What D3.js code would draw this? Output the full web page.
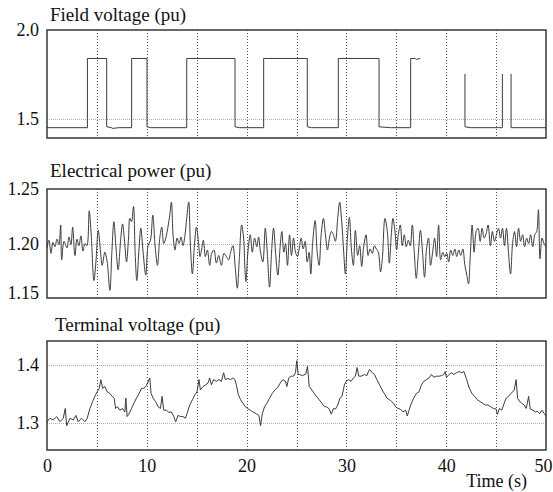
<!DOCTYPE html>
<html>
<head>
<meta charset="utf-8">
<script src="https://cdn.jsdelivr.net/npm/d3@7"></script>
<style>
  body { margin: 0; background: #fff; }
  svg { display: block; }
  svg text { font-family: "Liberation Serif", "Times New Roman", Times, "DejaVu Serif", "Noto Serif", serif; fill: #111; }
</style>
</head>
<body>
<svg id="chart" width="553" height="492"></svg>
<script>
// ---- data ----
var xTicks = [0, 10, 20, 30, 40, 50];
var gridTimes = [5, 10, 15, 20, 25, 30, 35, 40, 45];

var fieldTicks = [1.5, 2.0];
var powerTicks = [1.15, 1.20, 1.25];
var voltageTicks = [1.3, 1.4];

var titles = ['Field voltage (pu)', 'Electrical power (pu)', 'Terminal voltage (pu)'];

// field voltage: square wave, null = no trace drawn
var fieldTime = [0, 4.05, 4.05, 5.98, 5.98, 6.4, 6.6, 7.2, 8.48, 8.48, 10.02, 10.02, 10.4, 14.0, 14.0,
  18.84, 18.84, 19.3, 21.71, 21.71, 26.08, 26.08, 26.5, 29.19, 29.19, 33.27, 33.27, 34.4, 36.44, 36.44,
  36.9, 37.0, 37.4, 37.5, 41.88, 41.88, 42.4, 45.63, 45.63, 45.7, 46.5, 46.5, 50];
var fieldValue = [1.451, 1.451, 1.84, 1.84, 1.456, 1.452, 1.447, 1.451, 1.451, 1.84, 1.84, 1.456, 1.451, 1.451, 1.84,
  1.84, 1.456, 1.451, 1.451, 1.84, 1.84, 1.456, 1.451, 1.451, 1.84, 1.84, 1.456, 1.451, 1.451, 1.84,
  1.84, 1.835, 1.84, null, 1.753, 1.456, 1.451, 1.451, 1.753, null, 1.753, 1.451, 1.451];

var powerTime = [0, 0.2, 0.4, 0.6, 0.8, 1.0, 1.2, 1.37, 1.47, 1.7, 2.0, 2.2, 2.4, 2.57, 2.8, 3.0, 3.2, 3.4, 3.6, 3.8,
  4.0, 4.23, 4.43, 4.7, 4.9, 5.13, 5.37, 5.53, 5.8, 6.03, 6.3, 6.5, 6.7, 6.9, 7.13, 7.37, 7.57, 7.77, 7.97, 8.17,
  8.3, 8.47, 8.67, 8.83, 9.0, 9.2, 9.4, 9.63, 9.9, 10.13, 10.37, 10.6, 10.83, 11.07, 11.3, 11.5, 11.7, 11.9, 12.1, 12.3,
  12.47, 12.63, 12.83, 13.03, 13.23, 13.43, 13.63, 13.83, 14.0, 14.2, 14.37, 14.57, 14.77, 14.97, 15.17, 15.33, 15.5, 15.67, 15.87, 16.07,
  16.3, 16.5, 16.73, 16.97, 17.2, 17.47, 17.73, 17.97, 18.2, 18.4, 18.63, 18.87, 19.07, 19.27, 19.5, 19.7, 19.83, 19.93, 20.13, 20.37,
  20.57, 20.8, 21.03, 21.2, 21.4, 21.63, 21.87, 22.07, 22.3, 22.5, 22.7, 22.9, 23.13, 23.37, 23.53, 23.73, 23.9, 24.1, 24.3, 24.5,
  24.7, 24.9, 25.1, 25.3, 25.47, 25.67, 25.87, 26.07, 26.27, 26.43, 26.63, 26.87, 27.07, 27.27, 27.47, 27.7, 27.9, 28.1, 28.3, 28.5,
  28.7, 28.9, 29.13, 29.33, 29.53, 29.73, 29.9, 30.1, 30.3, 30.5, 30.7, 30.9, 31.13, 31.33, 31.53, 31.73, 31.97, 32.17, 32.37, 32.6,
  32.8, 33.0, 33.2, 33.42, 33.6, 33.86, 34.1, 34.3, 34.5, 34.66, 34.87, 35.03, 35.2, 35.4, 35.6, 35.8, 36.0, 36.2, 36.4, 36.6,
  36.8, 37.0, 37.22, 37.42, 37.63, 37.83, 38.03, 38.23, 38.43, 38.64, 38.84, 39.04, 39.24, 39.44, 39.65, 39.85, 40.05, 40.25, 40.45, 40.66,
  40.86, 41.06, 41.26, 41.46, 41.67, 41.87, 42.07, 42.24, 42.4, 42.6, 42.8, 43.0, 43.2, 43.4, 43.6, 43.8, 44.0, 44.2, 44.43, 44.63,
  44.83, 45.03, 45.24, 45.44, 45.64, 45.84, 46.04, 46.24, 46.45, 46.65, 46.85, 47.05, 47.25, 47.46, 47.66, 47.86, 48.06, 48.26, 48.46, 48.67,
  48.87, 49.07, 49.24, 49.4, 49.6, 49.8, 50.0];
var powerValue = [1.196, 1.203, 1.191, 1.201, 1.197, 1.204, 1.199, 1.217, 1.185, 1.202, 1.196, 1.206, 1.199, 1.215, 1.189, 1.204, 1.198, 1.207, 1.193, 1.200,
  1.198, 1.230, 1.208, 1.166, 1.183, 1.212, 1.192, 1.180, 1.192, 1.183, 1.157, 1.192, 1.220, 1.198, 1.176, 1.202, 1.218, 1.202, 1.183, 1.205,
  1.223, 1.220, 1.234, 1.192, 1.166, 1.192, 1.214, 1.192, 1.171, 1.198, 1.203, 1.226, 1.198, 1.180, 1.205, 1.215, 1.200, 1.205, 1.214, 1.226,
  1.238, 1.208, 1.194, 1.205, 1.200, 1.206, 1.198, 1.208, 1.223, 1.238, 1.198, 1.172, 1.198, 1.215, 1.202, 1.188, 1.195, 1.203, 1.188, 1.194,
  1.180, 1.191, 1.194, 1.182, 1.189, 1.180, 1.191, 1.188, 1.185, 1.192, 1.198, 1.177, 1.159, 1.186, 1.217, 1.205, 1.177, 1.165, 1.192, 1.208,
  1.192, 1.205, 1.197, 1.206, 1.192, 1.183, 1.214, 1.192, 1.160, 1.192, 1.214, 1.192, 1.171, 1.198, 1.211, 1.192, 1.200, 1.180, 1.208, 1.189,
  1.205, 1.192, 1.188, 1.197, 1.205, 1.195, 1.202, 1.183, 1.192, 1.172, 1.202, 1.221, 1.192, 1.180, 1.208, 1.223, 1.208, 1.194, 1.205, 1.211,
  1.208, 1.202, 1.223, 1.238, 1.220, 1.192, 1.172, 1.205, 1.224, 1.195, 1.180, 1.212, 1.189, 1.198, 1.179, 1.197, 1.208, 1.189, 1.195, 1.191,
  1.198, 1.195, 1.192, 1.174, 1.186, 1.223, 1.211, 1.182, 1.208, 1.223, 1.211, 1.194, 1.208, 1.217, 1.198, 1.208, 1.197, 1.203, 1.198, 1.217,
  1.192, 1.168, 1.192, 1.212, 1.192, 1.169, 1.195, 1.205, 1.180, 1.192, 1.205, 1.188, 1.217, 1.185, 1.192, 1.188, 1.191, 1.183, 1.194, 1.189,
  1.195, 1.188, 1.194, 1.189, 1.195, 1.180, 1.171, 1.163, 1.186, 1.217, 1.192, 1.211, 1.214, 1.202, 1.214, 1.205, 1.209, 1.217, 1.198, 1.211,
  1.202, 1.208, 1.214, 1.205, 1.214, 1.198, 1.214, 1.192, 1.172, 1.200, 1.211, 1.197, 1.214, 1.202, 1.208, 1.197, 1.205, 1.200, 1.208, 1.197,
  1.208, 1.211, 1.231, 1.186, 1.205, 1.200, 1.197];

var voltageTime = [0, 0.3, 0.63, 0.97, 1.3, 1.63, 1.83, 1.97, 2.3, 2.63, 2.9, 3.13, 3.47, 3.8, 4.03, 4.3, 4.57, 4.8, 5.03, 5.23,
  5.4, 5.57, 5.8, 6.03, 6.3, 6.53, 6.73, 6.87, 7.07, 7.3, 7.57, 7.8, 7.9, 8.03, 8.2, 8.47, 8.7, 8.97, 9.23, 9.47,
  9.7, 9.9, 10.07, 10.3, 10.43, 10.63, 10.87, 11.13, 11.37, 11.53, 11.7, 11.97, 12.23, 12.47, 12.7, 12.9, 13.13, 13.37, 13.63, 13.87,
  14.03, 14.3, 14.57, 14.83, 15.03, 15.23, 15.37, 15.63, 15.9, 16.13, 16.3, 16.47, 16.7, 16.97, 17.23, 17.47, 17.7, 17.87, 18.13, 18.37,
  18.63, 18.83, 18.97, 19.17, 19.4, 19.63, 19.87, 20.1, 20.37, 20.63, 20.97, 21.23, 21.4, 21.57, 21.8, 22.03, 22.3, 22.57, 22.83, 23.1,
  23.37, 23.63, 23.9, 24.03, 24.23, 24.47, 24.7, 24.9, 25.03, 25.17, 25.27, 25.6, 25.94, 26.1, 26.28, 26.54, 26.78, 27.0, 27.28, 27.55,
  27.8, 28.0, 28.29, 28.49, 28.7, 28.9, 29.13, 29.36, 29.56, 29.8, 29.97, 30.23, 30.47, 30.7, 30.9, 31.07, 31.24, 31.48, 31.81, 32.05,
  32.25, 32.38, 32.58, 32.82, 33.05, 33.32, 33.59, 33.86, 34.06, 34.33, 34.53, 34.73, 34.93, 35.17, 35.4, 35.67, 35.94, 36.1, 36.28, 36.51,
  36.75, 37.01, 37.28, 37.52, 37.75, 38.02, 38.29, 38.52, 38.76, 39.03, 39.3, 39.53, 39.77, 39.9, 40.03, 40.3, 40.54, 40.77, 41.04, 41.31,
  41.54, 41.78, 42.05, 42.32, 42.58, 42.85, 43.12, 43.39, 43.66, 43.93, 44.19, 44.46, 44.73, 45.0, 45.13, 45.34, 45.57, 45.81, 46.01, 46.24,
  46.48, 46.68, 46.81, 47.01, 47.15, 47.35, 47.58, 47.82, 48.02, 48.26, 48.42, 48.69, 48.93, 49.16, 49.36, 49.6, 49.83, 50.0];
var voltageValue = [1.302, 1.308, 1.305, 1.311, 1.302, 1.308, 1.325, 1.295, 1.308, 1.305, 1.313, 1.302, 1.308, 1.302, 1.308, 1.325, 1.337, 1.346, 1.354, 1.360,
  1.375, 1.360, 1.363, 1.354, 1.351, 1.346, 1.343, 1.325, 1.328, 1.322, 1.325, 1.319, 1.343, 1.311, 1.315, 1.325, 1.334, 1.343, 1.351, 1.360,
  1.360, 1.363, 1.369, 1.378, 1.351, 1.343, 1.337, 1.328, 1.325, 1.346, 1.322, 1.322, 1.318, 1.319, 1.311, 1.302, 1.313, 1.311, 1.311, 1.308,
  1.316, 1.331, 1.340, 1.349, 1.354, 1.375, 1.357, 1.363, 1.366, 1.369, 1.378, 1.366, 1.375, 1.372, 1.375, 1.372, 1.387, 1.375, 1.377, 1.375,
  1.378, 1.375, 1.366, 1.349, 1.340, 1.334, 1.328, 1.325, 1.322, 1.319, 1.316, 1.313, 1.295, 1.316, 1.328, 1.334, 1.343, 1.351, 1.357, 1.361,
  1.369, 1.375, 1.372, 1.363, 1.378, 1.381, 1.381, 1.387, 1.408, 1.384, 1.384, 1.382, 1.385, 1.398, 1.363, 1.357, 1.351, 1.346, 1.340, 1.334,
  1.328, 1.328, 1.324, 1.315, 1.325, 1.324, 1.331, 1.343, 1.346, 1.366, 1.372, 1.375, 1.372, 1.378, 1.381, 1.396, 1.381, 1.381, 1.384, 1.382,
  1.391, 1.392, 1.387, 1.384, 1.375, 1.366, 1.357, 1.349, 1.343, 1.340, 1.337, 1.334, 1.328, 1.325, 1.324, 1.319, 1.322, 1.312, 1.322, 1.334,
  1.343, 1.351, 1.354, 1.366, 1.372, 1.375, 1.378, 1.384, 1.379, 1.381, 1.381, 1.382, 1.384, 1.389, 1.379, 1.384, 1.387, 1.384, 1.387, 1.389,
  1.387, 1.389, 1.375, 1.360, 1.351, 1.346, 1.340, 1.337, 1.334, 1.331, 1.331, 1.328, 1.325, 1.324, 1.315, 1.325, 1.322, 1.334, 1.343, 1.346,
  1.351, 1.354, 1.357, 1.375, 1.343, 1.337, 1.334, 1.331, 1.325, 1.346, 1.324, 1.322, 1.319, 1.320, 1.316, 1.322, 1.316, 1.312];

// ---- layout ----
var left = 47, right = 546;
var serif = '"Liberation Serif", "Times New Roman", Times, "DejaVu Serif", "Noto Serif", serif';
var panels = [
  { top: 30,  bottom: 138, domain: [1.393, 2.0],   ticks: fieldTicks,   fmt: '.1f', t: fieldTime,   v: fieldValue,   curve: d3.curveLinear, titleX: 50, titleY: 21 },
  { top: 189, bottom: 298, domain: [1.15, 1.25],   ticks: powerTicks,   fmt: '.2f', t: powerTime,   v: powerValue,   curve: d3.curveCatmullRom.alpha(0.5), titleX: 50, titleY: 177 },
  { top: 341, bottom: 450, domain: [1.253, 1.442], ticks: voltageTicks, fmt: '.1f', t: voltageTime, v: voltageValue, curve: d3.curveLinear, titleX: 55, titleY: 331 }
];

var svg = d3.select('#chart');

var x = d3.scaleLinear().domain([0, 50]).range([left, right]);

panels.forEach(function(p, i) {
  var y = d3.scaleLinear().domain(p.domain).range([p.bottom, p.top]);
  var g = svg.append('g');

  // horizontal dotted grid at the labelled values (not at the frame edges)
  g.selectAll('.hgrid')
    .data(p.ticks.filter(function(d) { return y(d) > p.top + 2 && y(d) < p.bottom - 2; }))
    .enter().append('line')
    .attr('x1', left).attr('x2', right)
    .attr('y1', function(d) { return Math.round(y(d)) + 0.5; })
    .attr('y2', function(d) { return Math.round(y(d)) + 0.5; })
    .attr('stroke', '#b0b0b0')
    .attr('stroke-dasharray', '1,1');

  // vertical dotted grid every 5 s
  g.selectAll('.vgrid')
    .data(gridTimes)
    .enter().append('line')
    .attr('x1', function(d) { return Math.round(x(d)) + 0.5; })
    .attr('x2', function(d) { return Math.round(x(d)) + 0.5; })
    .attr('y1', p.top).attr('y2', p.bottom)
    .attr('stroke', '#555')
    .attr('stroke-dasharray', '1,2');

  var pts = p.t.map(function(t, k) { return { t: t, v: p.v[k] }; });
  var line = d3.line()
    .defined(function(d) { return d.v != null; })
    .curve(p.curve)
    .x(function(d) { return x(d.t); })
    .y(function(d) { return y(d.v); });

  g.append('path')
    .datum(pts)
    .attr('d', line)
    .attr('fill', 'none')
    .attr('stroke', '#3c3c3c')
    .attr('stroke-width', 1)
    .attr('stroke-linejoin', 'round');

  // frame
  g.append('rect')
    .attr('x', left).attr('y', p.top)
    .attr('width', right - left).attr('height', p.bottom - p.top)
    .attr('fill', 'none')
    .attr('stroke', '#2a2a2a')
    .attr('stroke-width', 1.4);

  // y labels
  var ax = g.append('g')
    .attr('transform', 'translate(' + (left - 8) + ',0)')
    .call(d3.axisLeft(y).tickValues(p.ticks).tickFormat(d3.format(p.fmt)).tickSize(0).tickPadding(0));
  ax.select('.domain').remove();
  ax.attr('font-family', serif).attr('font-size', 18);
  ax.selectAll('text')
    .attr('font-family', serif)
    .style('font-size', '18px')
    .attr('fill', '#111')
    .attr('dy', function(d) { return y(d) + 6 > p.bottom ? '0em' : '0.32em'; });

  g.append('text')
    .attr('x', p.titleX).attr('y', p.titleY)
    .attr('font-family', serif)
    .style('font-size', '19px')
    .text(titles[i]);
});

// x labels under the last panel
var xa = svg.append('g')
  .attr('transform', 'translate(0,' + panels[2].bottom + ')')
  .call(d3.axisBottom(x).tickValues(xTicks).tickFormat(d3.format('d')).tickSize(0).tickPadding(9));
xa.select('.domain').remove();
xa.attr('font-family', serif).attr('font-size', 18);
xa.selectAll('text').attr('font-family', serif).style('font-size', '18px').attr('fill', '#111');
// keep the last label inside the page
xa.selectAll('text')
  .filter(function(d) { return d === xTicks[xTicks.length - 1]; })
  .attr('text-anchor', 'end')
  .attr('x', 553 - 1 - x(50));

svg.append('text')
  .attr('x', 527).attr('y', 487)
  .attr('text-anchor', 'end')
  .attr('font-family', serif)
  .style('font-size', '18px')
  .text('Time (s)');
</script>
</body>
</html>
